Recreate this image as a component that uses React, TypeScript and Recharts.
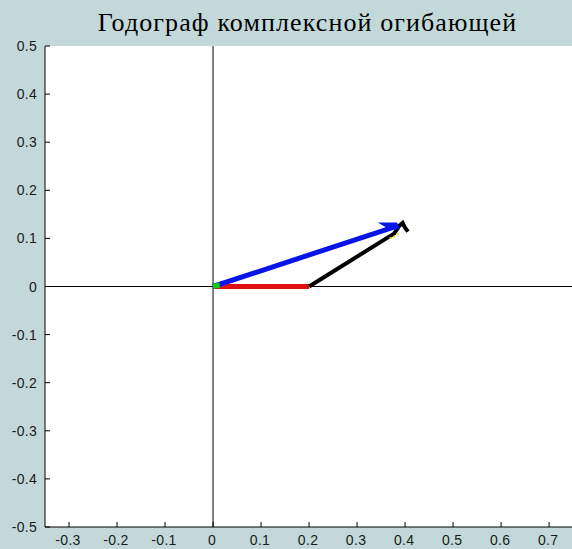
import {
  LineChart,
  Line,
  XAxis,
  YAxis,
  ReferenceLine,
  CartesianGrid,
} from 'recharts';

const title = 'Годограф комплексной огибающей';

const xTicks = [-0.3, -0.2, -0.1, 0, 0.1, 0.2, 0.3, 0.4, 0.5, 0.6, 0.7];
const yTicks = [-0.5, -0.4, -0.3, -0.2, -0.1, 0, 0.1, 0.2, 0.3, 0.4, 0.5];

// segments of the hodograph
const redPath = [
  { x: 0, y: 0 },
  { x: 0.2, y: 0 },
];
const blackPath = [
  { x: 0.2, y: 0 },
  { x: 0.377, y: 0.11 },
  { x: 0.388, y: 0.126 },
  { x: 0.395, y: 0.132 },
  { x: 0.4, y: 0.122 },
  { x: 0.406, y: 0.114 },
];
const bluePath = [
  { x: 0, y: 0 },
  { x: 0.372, y: 0.122 },
  { x: 0.362, y: 0.128 },
  { x: 0.38, y: 0.128 },
  { x: 0.384, y: 0.119 },
];
const yellowPath = [
  { x: 0.368, y: 0.1 },
  { x: 0.378, y: 0.104 },
  { x: 0.386, y: 0.11 },
];
const greenPath = [
  { x: 0, y: 0 },
  { x: 0.014, y: 0.003 },
];

const fmt = (v: number) => String(Number(v.toFixed(1)));
const tickFont = {
  fontSize: 14,
  fill: '#1a1a1a',
  fontFamily: '"Liberation Sans", Arial, sans-serif',
  letterSpacing: 0.3,
};

const LeftTick = (props: any) => {
  const { x, y, payload } = props;
  return (
    <g>
      <line x1={x} y1={y} x2={x + 5} y2={y} stroke="#000" />
      <text x={x - 8} y={y + 5} textAnchor="end" {...tickFont}>
        {fmt(payload.value)}
      </text>
    </g>
  );
};

const BottomTick = (props: any) => {
  const { x, y, payload } = props;
  return (
    <g>
      <line x1={x} y1={y} x2={x} y2={y - 5} stroke="#000" />
      <text x={x - 1} y={y + 18} textAnchor="middle" {...tickFont}>
        {fmt(payload.value)}
      </text>
    </g>
  );
};

const TopTick = (props: any) => {
  const { x, y } = props;
  return <line x1={x} y1={y} x2={x} y2={y + 5} stroke="#000" />;
};

const RightTick = (props: any) => {
  const { x, y } = props;
  return <line x1={x} y1={y} x2={x - 5} y2={y} stroke="#000" />;
};

export default function App() {
  return (
    <div
      style={{
        position: 'fixed',
        top: 0,
        left: 0,
        width: 572,
        height: 549,
        overflow: 'hidden',
        background: '#c3d9d9',
      }}
    >
      <div
        style={{
          position: 'absolute',
          top: 10,
          left: 0,
          width: 615,
          textAlign: 'center',
          fontFamily: '"Liberation Serif", "Times New Roman", serif',
          fontSize: 26,
          lineHeight: '26px',
          letterSpacing: 1.1,
          color: '#000',
          whiteSpace: 'nowrap',
        }}
      >
        {title}
      </div>
      <LineChart
        width={600}
        height={549}
        margin={{ top: 46, right: 24.5, bottom: 0, left: 0 }}
      >
        <CartesianGrid fill="#fff" stroke="none" horizontal={false} vertical={false} />
        <XAxis
          dataKey="x"
          type="number"
          domain={[-0.35, 0.755]}
          allowDataOverflow
          ticks={xTicks}
          interval={0}
          height={22}
          tickSize={0}
          tickMargin={0}
          tickLine={false}
          axisLine={{ stroke: '#000' }}
          tick={<BottomTick />}
        />
        <XAxis
          xAxisId="top"
          orientation="top"
          dataKey="x"
          type="number"
          domain={[-0.35, 0.755]}
          allowDataOverflow
          ticks={xTicks}
          interval={0}
          height={0}
          tickSize={0}
          tickMargin={0}
          tickLine={false}
          axisLine={{ stroke: '#000' }}
          tick={<TopTick />}
        />
        <YAxis
          type="number"
          domain={[-0.5, 0.5]}
          allowDataOverflow
          ticks={yTicks}
          interval={0}
          width={45}
          tickSize={0}
          tickMargin={0}
          tickLine={false}
          axisLine={{ stroke: '#000' }}
          tick={<LeftTick />}
        />
        <YAxis
          yAxisId="right"
          orientation="right"
          type="number"
          domain={[-0.5, 0.5]}
          allowDataOverflow
          ticks={yTicks}
          interval={0}
          width={0}
          tickSize={0}
          tickMargin={0}
          tickLine={false}
          axisLine={{ stroke: '#000' }}
          tick={<RightTick />}
        />
        <ReferenceLine x={0} stroke="#000" strokeWidth={1} />
        <ReferenceLine y={0} stroke="#000" strokeWidth={1} />
        <Line data={redPath} dataKey="y" stroke="#e01010" strokeWidth={5} dot={false} isAnimationActive={false} />
        <Line data={blackPath} dataKey="y" stroke="#000" strokeWidth={4} dot={false} isAnimationActive={false} />
        <Line data={bluePath} dataKey="y" stroke="#0814e8" strokeWidth={5} dot={false} isAnimationActive={false} />
        <Line data={yellowPath} dataKey="y" stroke="#e6e000" strokeWidth={2} strokeDasharray="2 2" dot={false} isAnimationActive={false} />
        <Line data={greenPath} dataKey="y" stroke="#10d010" strokeWidth={5} dot={false} isAnimationActive={false} />
      </LineChart>
    </div>
  );
}
